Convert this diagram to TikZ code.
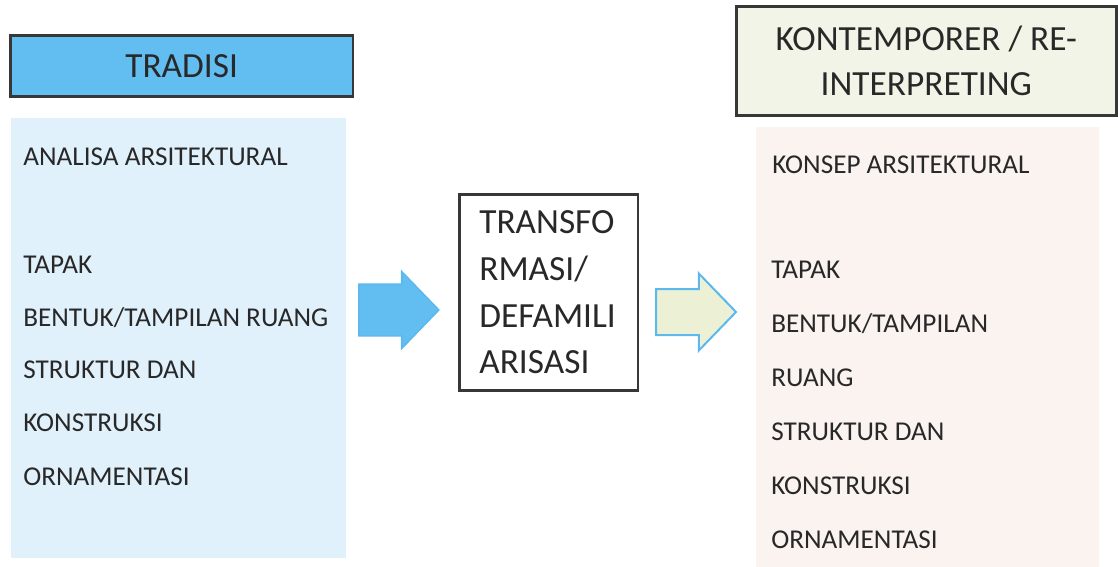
\documentclass[tikz,border=0pt]{standalone}
\usepackage{fontspec}
\setmainfont{Carlito}
\usetikzlibrary{shapes.arrows}

\definecolor{rim}{RGB}{55,55,55}
\definecolor{ink}{RGB}{40,40,40}
\definecolor{headblue}{RGB}{98,190,240}
\definecolor{paneblue}{RGB}{225,241,251}
\definecolor{panepink}{RGB}{250,243,240}
\definecolor{headgreen}{RGB}{242,244,232}
\definecolor{arrowblue}{RGB}{92,185,238}
\definecolor{arrowpale}{RGB}{236,240,212}

\begin{document}
\begin{tikzpicture}[x=0.75pt, y=-0.75pt, line width=2pt,
	item/.style={anchor=west, inner sep=0pt, text=ink, font=\fontsize{20.4}{24}\selectfont},
	head/.style={draw=rim, text=ink, font=\fontsize{26.5}{34}\selectfont}]

	\useasboundingbox (0, 0) rectangle (1118, 567);

	% Panel kiri dan kanan
	\node[fill=paneblue, anchor=north west, minimum width=251pt, minimum height=330pt, inner sep=0pt] (panelL) at (10, 117) {};
	\node[fill=panepink, anchor=north west, minimum width=257pt, minimum height=331pt, inner sep=0pt] (panelR) at (755, 126) {};

	% Judul
	\node[head, fill=headblue, anchor=north west, minimum width=257pt, minimum height=46pt, inner sep=0pt] (tradisi) at (9, 34) {TRADISI};
	\node[head, fill=headgreen, anchor=north west, minimum width=285pt, minimum height=82pt, align=center, inner sep=0pt] (kontemp) at (735, 5) {KONTEMPORER / RE-\\INTERPRETING};

	% Kotak tengah
	\node[head, fill=white, anchor=north west, minimum width=134pt, minimum height=147pt, text width=104pt, inner xsep=15pt, align=left, font=\fontsize{26.5}{35}\selectfont] (trans) at (458, 193) {TRANSFO\\RMASI/\\DEFAMILI\\ARISASI};

	% Panah
	\node[single arrow, draw=arrowblue, fill=headblue, line width=1.2pt, anchor=tail, minimum height=60pt, inner xsep=0pt, inner ysep=18.75pt, single arrow head extend=9.4pt, single arrow tip angle=92] (arrowA) at (358, 310) {};
	\node[single arrow, draw=arrowblue, fill=arrowpale, line width=1.5pt, anchor=tail, minimum height=60pt, inner xsep=0pt, inner ysep=16.5pt, single arrow head extend=11.6pt, single arrow tip angle=92] (arrowB) at (655, 312) {};

	% Isi kiri
	\node[item] (analisa) at (22, 157) {ANALISA ARSITEKTURAL};
	\node[item] (tapakL) at (22, 265) {TAPAK};
	\node[item] (bentukL) at (22, 318) {BENTUK/TAMPILAN RUANG};
	\node[item] (strukturL) at (22, 370) {STRUKTUR DAN};
	\node[item] (konstruksiL) at (22, 423) {KONSTRUKSI};
	\node[item] (ornamenL) at (22, 477) {ORNAMENTASI};

	% Isi kanan
	\node[item] (konsep) at (771, 165) {KONSEP ARSITEKTURAL};
	\node[item] (tapakR) at (770, 270) {TAPAK};
	\node[item] (bentukR) at (770, 324) {BENTUK/TAMPILAN};
	\node[item] (ruangR) at (770, 378) {RUANG};
	\node[item] (strukturR) at (770, 432) {STRUKTUR DAN};
	\node[item] (konstruksiR) at (770, 486) {KONSTRUKSI};
	\node[item] (ornamenR) at (770, 540) {ORNAMENTASI};

\end{tikzpicture}
\end{document}
